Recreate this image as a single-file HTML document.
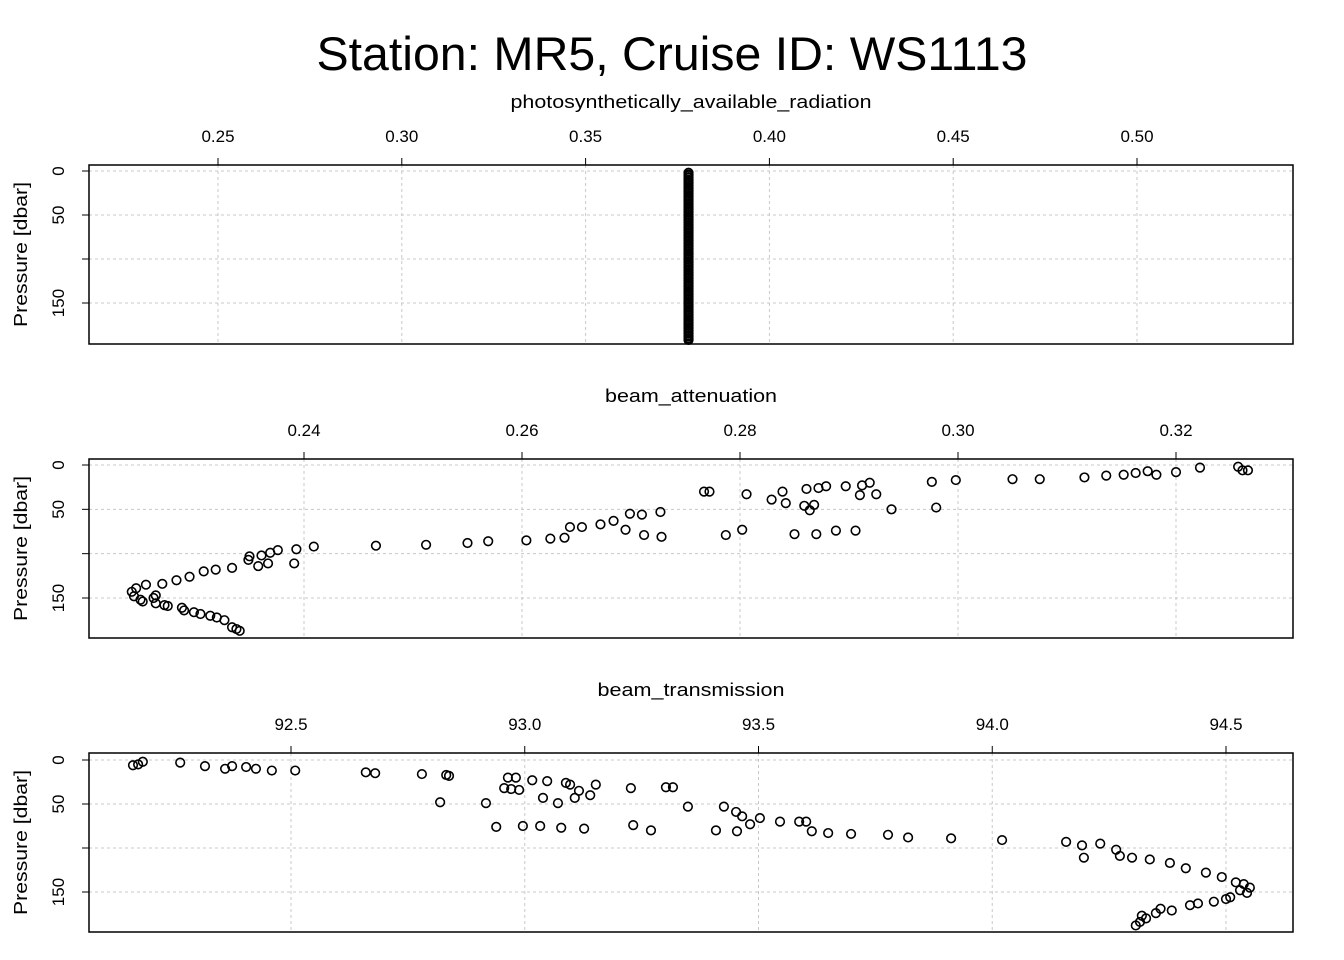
<!DOCTYPE html>
<html><head><meta charset="utf-8"><style>
body{margin:0;background:#fff;}
svg{display:block;font-family:"Liberation Sans",sans-serif;}
</style></head><body>
<svg id="chart" width="1344" height="960">
<text x="672" y="70" text-anchor="middle" font-size="47" textLength="711" lengthAdjust="spacingAndGlyphs">Station: MR5, Cruise ID: WS1113</text>
</svg>
<script>
// ---- data ----
const parTicks = [0.25, 0.30, 0.35, 0.40, 0.45, 0.50];
const attTicks = [0.24, 0.26, 0.28, 0.30, 0.32];
const trTicks = [92.5, 93.0, 93.5, 94.0, 94.5];
const pTicks = [0, 50, 100, 150];
const pLabels = ["0", "50", "", "150"];

const parPressure = [2,4,5,7,8,10,11,13,14,16,17,19,20,22,23,25,26,28,29,31,32,34,35,37,38,40,41,43,44,46,47,49,50,52,53,55,56,58,59,61,62,64,65,67,68,70,71,73,74,76,77,79,80,82,83,85,86,88,89,91,92,94,95,97,98,100,101,103,104,106,107,109,110,112,113,115,116,118,119,121,122,124,125,127,128,130,131,133,134,136,137,139,140,142,143,145,146,148,149,151,152,154,155,157,158,160,161,163,164,166,167,169,170,172,173,175,176,178,179,181,182,184,185,187,188,190,191,192];
const parValue = 0.378;

const attValues = [0.3261,0.3257,0.3266,0.3222,0.3200,0.3182,0.3174,0.3163,0.3152,0.3136,0.3116,0.3075,0.3050,0.2998,0.2976,0.2919,0.2925,0.2912,0.2910,0.2897,0.2879,0.2872,0.2861,0.2839,0.2806,0.2772,0.2767,0.2868,0.2864,0.2859,0.2829,0.2842,0.2939,0.2980,0.2906,0.2888,0.2870,0.2850,0.2802,0.2787,0.2727,0.2710,0.2699,0.2684,0.2672,0.2655,0.2644,0.2695,0.2712,0.2728,0.2639,0.2626,0.2604,0.2569,0.2550,0.2512,0.2466,0.2409,0.2393,0.2376,0.2369,0.2361,0.2350,0.2349,0.2391,0.2367,0.2358,0.2334,0.2319,0.2308,0.2295,0.2283,0.2270,0.2255,0.2246,0.2242,0.2244,0.2264,0.2250,0.2264,0.2275,0.2288,0.2299,0.2314,0.2327,0.2334,0.2341,0.2338,0.2262,0.2252,0.2320,0.2305,0.2290,0.2272];
const attPressure = [6,2,6,3,8,11,7,9,11,12,14,16,16,17,19,20,33,23,34,24,24,26,27,30,33,30,30,45,51,46,39,43,50,48,74,74,78,78,73,79,53,56,55,63,67,70,70,73,79,81,82,83,85,86,88,90,91,92,95,96,99,102,103,107,111,111,114,116,118,120,126,130,134,135,139,143,148,147,152,156,159,161,166,170,175,183,187,185,150,154,172,168,164,158];

const trValues = [92.162,92.173,92.183,92.263,92.316,92.359,92.374,92.404,92.425,92.459,92.509,92.660,92.680,92.780,92.832,92.838,92.819,92.917,92.956,92.964,92.981,92.971,92.988,93.016,93.039,93.048,93.071,93.088,93.097,93.107,93.116,93.140,93.152,93.227,93.302,93.317,93.349,93.426,93.452,93.465,93.503,93.546,93.587,93.602,93.614,93.649,93.698,93.777,93.820,93.912,94.021,94.158,94.192,94.231,94.265,94.273,94.299,94.337,94.380,94.414,94.457,94.491,94.521,94.538,94.551,94.530,94.509,94.474,94.423,94.384,94.350,94.329,94.316,94.307,92.939,92.996,93.033,93.078,93.127,93.232,93.270,93.409,93.454,93.482,94.196,94.545,94.500,94.440,94.360,94.320];
const trPressure = [6,5,2,3,7,10,7,8,10,12,12,14,15,16,17,18,48,49,32,20,20,33,34,23,43,24,49,26,28,43,35,40,28,32,31,31,53,53,59,64,66,70,70,70,81,83,84,85,88,89,91,93,97,95,102,109,111,113,117,123,128,133,139,141,145,148,156,161,165,171,174,180,184,188,76,75,75,77,78,74,80,80,81,73,111,151,158,163,169,177];

const NS = "http://www.w3.org/2000/svg";
const svg = document.getElementById("chart");
function mk(tag, attrs, parent) {
  const e = document.createElementNS(NS, tag);
  for (const k in attrs) e.setAttribute(k, attrs[k]);
  (parent || svg).appendChild(e);
  return e;
}

function panel(opts) {
  const g = mk("g", {});
  
  
  const L = 89, R = 1293, T = opts.top, B = opts.top + 179;
  const xs = v => opts.x0 + (v - opts.v0) * opts.k;
  const ys = p => opts.y0 + p * opts.py;
  opts.xTicks.forEach(t => {
    const l = mk("line", {x1: xs(t), x2: xs(t), y1: T, y2: B, stroke: "#c8c8c8", "stroke-dasharray": "3,3", "stroke-width": 1}, g);
    
    
  });
  pTicks.forEach(t => {
    const l = mk("line", {x1: L, x2: R, y1: ys(t), y2: ys(t), stroke: "#c8c8c8", "stroke-dasharray": "3,3", "stroke-width": 1}, g);
    
    
  });
  opts.values.forEach((v, i) => {
    const c = mk("circle", {cx: xs(v), cy: ys(opts.pressure[i]), r: 4.3, fill: "none", stroke: "#000", "stroke-width": 1.6}, g);
    
    
  });
  const box = mk("rect", {x: L, y: T, width: R - L, height: B - T, fill: "none", stroke: "#000", "stroke-width": 1.5}, g);
  
  
  opts.xTicks.forEach(t => {
    mk("line", {x1: xs(t), x2: xs(t), y1: T, y2: T - 7, stroke: "#000", "stroke-width": 1}, g);
    const tx = mk("text", {x: xs(t), y: T - 23, "text-anchor": "middle", "font-size": 17}, g);
    tx.textContent = opts.xFmt(t);
    
    
  });
  const xt = mk("text", {x: 691, y: T - 57, "text-anchor": "middle", "font-size": 18, textLength: opts.titleLen, lengthAdjust: "spacingAndGlyphs"}, g);
  xt.textContent = opts.title;
  
  
  pTicks.forEach((t, i) => {
    mk("line", {x1: L, x2: L - 7, y1: ys(t), y2: ys(t), stroke: "#000", "stroke-width": 1}, g);
    if (pLabels[i]) {
      const tx = mk("text", {x: 0, y: 0, "text-anchor": "middle", "font-size": 17, transform: `translate(64,${ys(t)}) rotate(-90)`}, g);
      tx.textContent = pLabels[i];
      
      
    }
  });
  const yt = mk("text", {x: 0, y: 0, "text-anchor": "middle", "font-size": 18, textLength: 145, lengthAdjust: "spacingAndGlyphs", transform: `translate(27,${(T + B) / 2}) rotate(-90)`}, g);
  yt.textContent = "Pressure [dbar]";
  
  
}

panel({name: "par", top: 165, x0: 218, v0: 0.25, k: 3676, y0: 171, py: 0.88,
  xTicks: parTicks, xFmt: t => t.toFixed(2), title: "photosynthetically_available_radiation", titleLen: 361,
  values: parPressure.map(() => parValue), pressure: parPressure});
panel({name: "beam-attenuation", top: 459, x0: 304, v0: 0.24, k: 10900, y0: 465, py: 0.8867,
  xTicks: attTicks, xFmt: t => t.toFixed(2), title: "beam_attenuation", titleLen: 172,
  values: attValues, pressure: attPressure});
panel({name: "beam-transmission", top: 753, x0: 291, v0: 92.5, k: 467.5, y0: 760, py: 0.88,
  xTicks: trTicks, xFmt: t => t.toFixed(1), title: "beam_transmission", titleLen: 187,
  values: trValues, pressure: trPressure});
</script>
</body></html>
